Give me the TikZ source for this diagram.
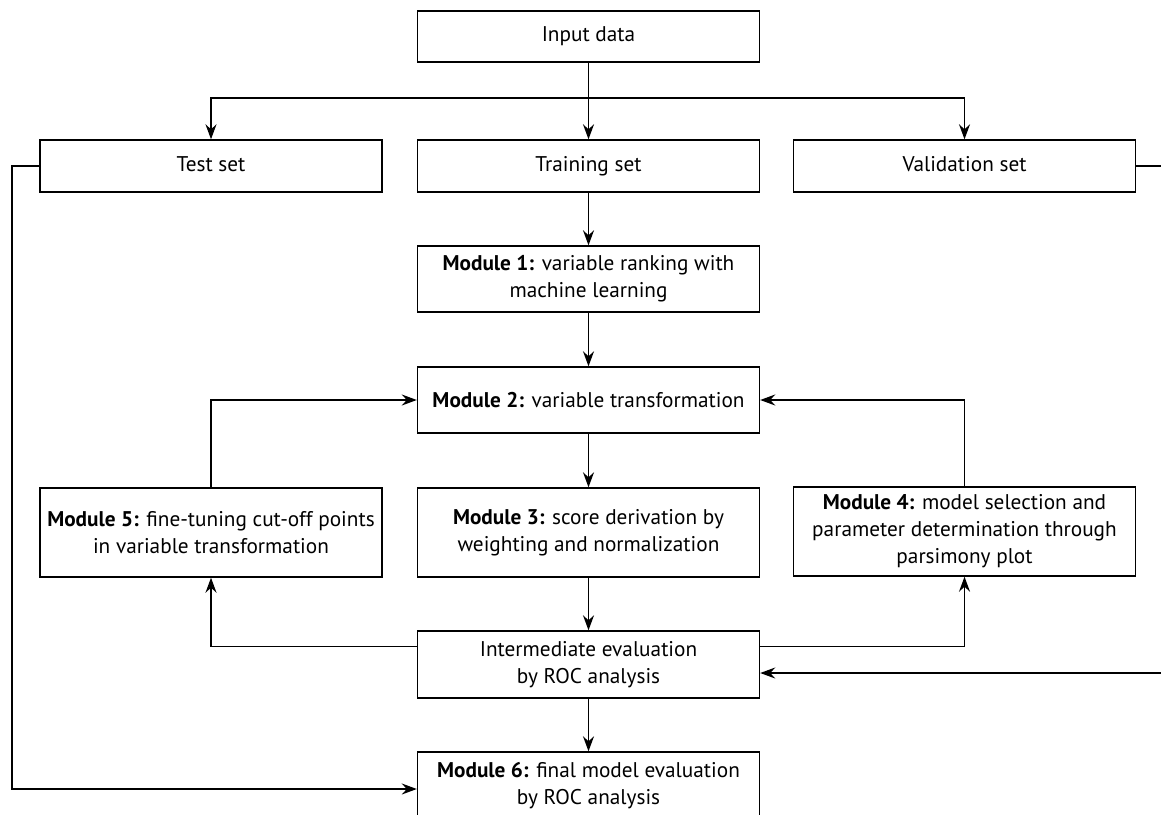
\documentclass[tikz,border=0pt]{standalone}
\usepackage{fontspec}
\setmainfont{PT Sans}
\usetikzlibrary{arrows.meta}

\tikzset{
	box/.style={draw, line width=0.8pt, minimum width=6.84cm, align=center, inner sep=2pt,
		font=\fontsize{12.1}{15.4}\selectfont},
	setbox/.style={box, minimum height=1.04cm, text height=1.6ex, text depth=0.45ex},
	arr/.style={line width=0.8pt, -{Stealth[length=3mm, width=2.2mm, inset=1mm]}},
	con/.style={line width=0.8pt}
}
\newcommand{\mdl}[1]{\textbf{Module #1:}}

\begin{document}
\begin{tikzpicture}
	\useasboundingbox (0,0) rectangle (23.22,-16.28);
	\clip (0,0) rectangle (23.22,-16.28);
	
	%boxes
	\node[setbox, minimum height=1.02cm] (input) at (11.77,-0.73) {Input data};
	\node[setbox] (test) at (4.22,-3.32) {Test set};
	\node[setbox] (train) at (11.77,-3.32) {Training set};
	\node[setbox] (valid) at (19.29,-3.32) {Validation set};
	\node[box, minimum height=1.32cm] (mod1) at (11.77,-5.58) {\mdl{1} variable ranking with\\machine learning};
	\node[box, minimum height=1.32cm] (mod2) at (11.77,-8.0) {\mdl{2} variable transformation};
	\node[box, minimum height=1.78cm] (mod5) at (4.22,-10.65) {\mdl{5} fine-tuning cut-off points\\in variable transformation};
	\node[box, minimum height=1.78cm] (mod3) at (11.77,-10.65) {\mdl{3} score derivation by\\weighting and normalization};
	\node[box, minimum height=1.78cm] (mod4) at (19.29,-10.63) {\mdl{4} model selection and\\parameter determination through\\parsimony plot};
	\node[box, minimum height=1.34cm] (inter) at (11.77,-13.29) {Intermediate evaluation\\by ROC analysis};
	\node[box, minimum height=1.34cm] (mod6) at (11.77,-15.71) {\mdl{6} final model evaluation\\by ROC analysis};
	
	%bends
	\coordinate (split) at (11.77,-1.96);
	\coordinate (tbend) at (0.24,-15.78);
	\coordinate (vbend) at (23.6,-13.46);
	
	%data split
	\draw[con] (input) -- (split);
	\draw[arr] (split) -| (test);
	\draw[arr] (split) -- (train);
	\draw[arr] (split) -| (valid);
	
	%main chain
	\draw[arr] (train) -- (mod1);
	\draw[arr] (mod1) -- (mod2);
	\draw[arr] (mod2) -- (mod3);
	\draw[arr] (mod3) -- (inter);
	\draw[arr] (inter) -- (mod6);
	
	%feedback loops
	\draw[arr] (mod5) |- (mod2);
	\draw[arr] (mod4) |- (mod2);
	\draw[arr] ([yshift=-0.32cm]inter.north west) -| (mod5);
	\draw[arr] ([yshift=-0.32cm]inter.north east) -| (mod4);
	
	%test and validation
	\draw[arr] (test) -| (tbend) -- (tbend -| mod6.west);
	\draw[arr] (valid) -| (vbend) -- (vbend -| inter.east);
\end{tikzpicture}
\end{document}
